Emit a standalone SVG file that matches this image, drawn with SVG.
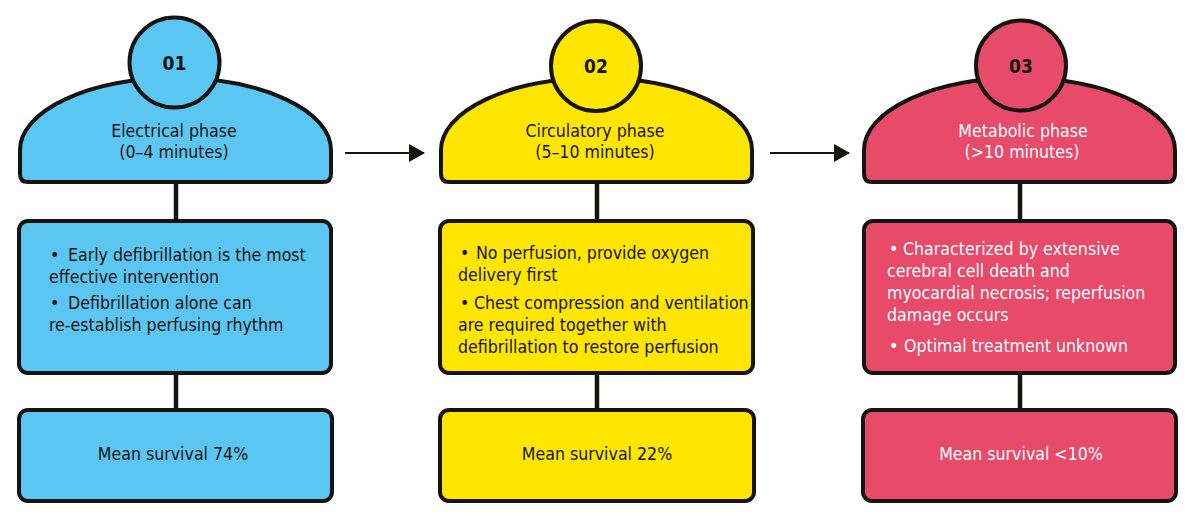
<svg xmlns="http://www.w3.org/2000/svg" width="1198" height="523" viewBox="0 0 1198 523">
<defs>
<style>
.t{font-family:"DejaVu Sans Condensed","Liberation Sans",sans-serif;font-size:17.6px;fill:#161410}
.w{fill:#ffffff}
.c{text-anchor:middle}
.n{font-family:"DejaVu Sans Condensed","Liberation Sans",sans-serif;font-size:19px;font-weight:bold;text-anchor:middle;fill:#161410}
.s{stroke:#161410;stroke-width:4}
.blue{fill:#5BC6F2}
.yel{fill:#FFE600}
.red{fill:#E84A6A}
.ln{stroke:#161410;stroke-width:4.5}
.ar{stroke:#161410;stroke-width:2}
</style>
<marker id="ah" markerWidth="16" markerHeight="18" refX="15" refY="9" orient="auto" markerUnits="userSpaceOnUse">
<path d="M0,0 L16,9 L0,18 Z" fill="#161410"/>
</marker>
</defs>
<rect width="1198" height="523" fill="#ffffff"/>

<g id="connectors">
<line class="ln" x1="176" y1="182" x2="176" y2="221"/>
<line class="ln" x1="176" y1="373" x2="176" y2="410"/>
<line class="ln" x1="597" y1="182" x2="597" y2="221"/>
<line class="ln" x1="597" y1="373" x2="597" y2="410"/>
<line class="ln" x1="1020" y1="182" x2="1020" y2="221"/>
<line class="ln" x1="1020" y1="373" x2="1020" y2="410"/>
<line class="ar" x1="345" y1="153" x2="424" y2="153" marker-end="url(#ah)"/>
<line class="ar" x1="770" y1="153" x2="849" y2="153" marker-end="url(#ah)"/>
</g>

<g id="phase1">
<path class="s blue" d="M20,150 A155.5,72 0 0 1 331,150 L331,174 Q331,182 323,182 L28,182 Q20,182 20,174 Z"/>
<circle class="s blue" cx="174.5" cy="62.5" r="45"/>
<text class="n" x="174.5" y="70">01</text>
<text class="t c" x="174" y="137">Electrical phase</text>
<text class="t c" x="174" y="158">(0–4 minutes)</text>
</g>
<g id="phase1-detail">
<rect class="s blue" x="19" y="221" width="312" height="152" rx="9"/>
<text class="t"><tspan x="50" y="261">•</tspan><tspan x="68" y="261">Early defibrillation is the most</tspan><tspan x="49" y="283">effective intervention</tspan></text>
<text class="t"><tspan x="50" y="309">•</tspan><tspan x="68" y="309">Defibrillation alone can</tspan><tspan x="49" y="331">re-establish perfusing rhythm</tspan></text>
</g>
<g id="phase1-survival">
<rect class="s blue" x="19" y="410" width="313" height="91" rx="9"/>
<text class="t c" x="173" y="460">Mean survival 74%</text>
</g>

<g id="phase2">
<path class="s yel" d="M441,150 A155.5,72 0 0 1 752,150 L752,174 Q752,182 744,182 L449,182 Q441,182 441,174 Z"/>
<circle class="s yel" cx="596" cy="66" r="45"/>
<text class="n" x="596" y="73">02</text>
<text class="t c" x="595" y="137">Circulatory phase</text>
<text class="t c" x="595" y="158">(5–10 minutes)</text>
</g>
<g id="phase2-detail">
<rect class="s yel" x="440" y="221" width="313" height="152" rx="9"/>
<text class="t"><tspan x="460" y="259">•</tspan><tspan x="476" y="259">No perfusion, provide oxygen</tspan><tspan x="458" y="281">delivery first</tspan></text>
<text class="t"><tspan x="460" y="309">•</tspan><tspan x="474" y="309">Chest compression and ventilation</tspan><tspan x="458" y="331">are required together with</tspan><tspan x="458" y="353">defibrillation to restore perfusion</tspan></text>
</g>
<g id="phase2-survival">
<rect class="s yel" x="440" y="410" width="314" height="91" rx="9"/>
<text class="t c" x="597" y="460">Mean survival 22%</text>
</g>

<g id="phase3">
<path class="s red" d="M864,150 A155.5,72 0 0 1 1175,150 L1175,174 Q1175,182 1167,182 L872,182 Q864,182 864,174 Z"/>
<circle class="s red" cx="1021" cy="65.5" r="45"/>
<text class="n w" x="1021" y="73">03</text>
<text class="t c w" x="1023" y="137">Metabolic phase</text>
<text class="t c w" x="1022" y="158">(&gt;10 minutes)</text>
</g>
<g id="phase3-detail">
<rect class="s red" x="864" y="221" width="311" height="152" rx="9"/>
<text class="t w"><tspan x="889" y="255">•</tspan><tspan x="903" y="255">Characterized by extensive</tspan><tspan x="887" y="277">cerebral cell death and</tspan><tspan x="887" y="299">myocardial necrosis; reperfusion</tspan><tspan x="887" y="321">damage occurs</tspan></text>
<text class="t w"><tspan x="889" y="352">•</tspan><tspan x="904" y="352">Optimal treatment unknown</tspan></text>
</g>
<g id="phase3-survival">
<rect class="s red" x="863" y="410" width="313" height="91" rx="9"/>
<text class="t c w" x="1021" y="460">Mean survival &lt;10%</text>
</g>
</svg>
